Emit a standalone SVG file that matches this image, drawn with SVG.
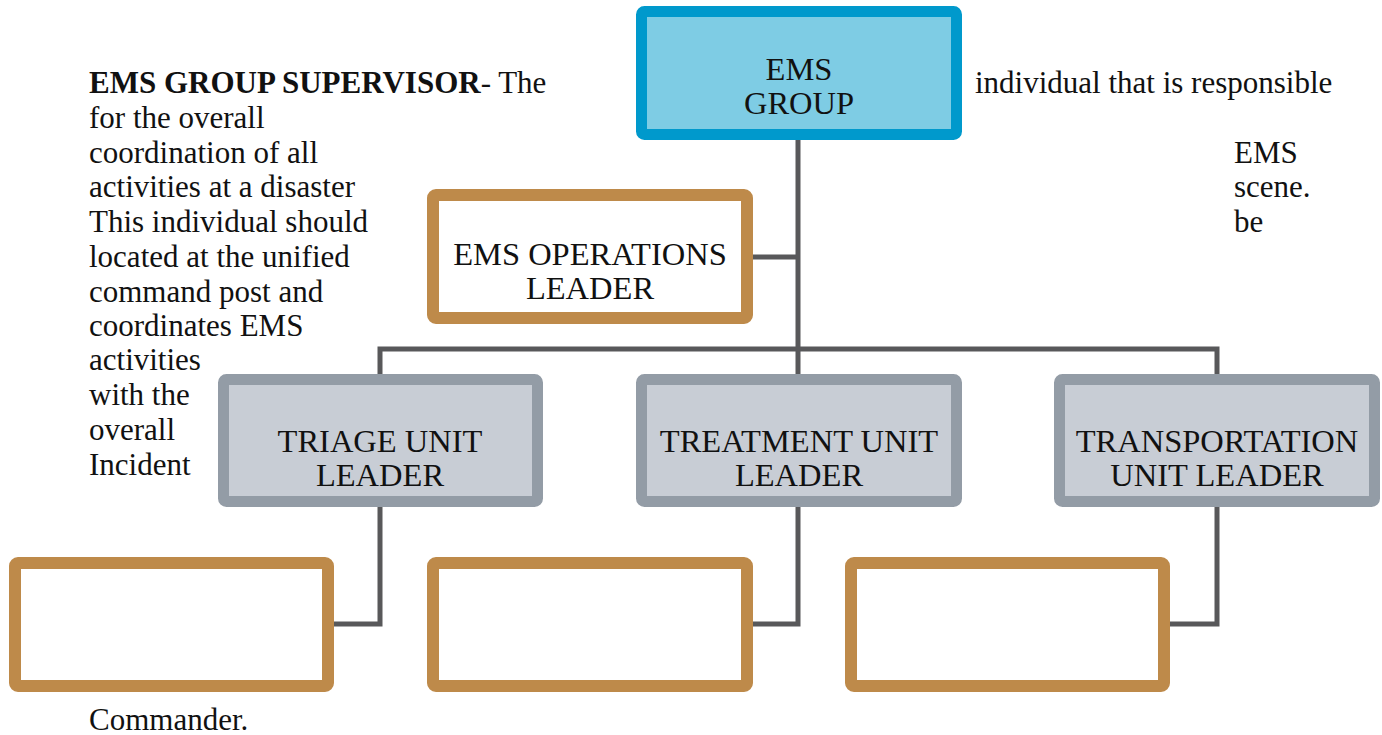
<svg xmlns="http://www.w3.org/2000/svg" width="1382" height="735" viewBox="0 0 1382 735">
  <style>
    .txt { font-family: "Liberation Serif", "DejaVu Serif", serif; font-size: 31px; fill: #111; }
    .lbl { font-family: "Liberation Serif", "DejaVu Serif", serif; font-size: 32.5px; fill: #111; text-anchor: middle; }
    .top { fill: #7ecce4; stroke: #0099cc; stroke-width: 11; }
    .ops { fill: #ffffff; stroke: #be8a4a; stroke-width: 12; }
    .unit { fill: #c8cdd5; stroke: #939ca6; stroke-width: 11; }
    .wire { fill: none; stroke: #58585a; stroke-width: 5; }
  </style>
  <rect width="1382" height="735" fill="#ffffff"/>

  <!-- connectors -->
  <g id="connectors">
    <path class="wire" d="M798 140 V374"/>
    <path class="wire" d="M753 257 H798"/>
    <path class="wire" d="M380 374 V349 H1217 V374"/>
    <path class="wire" d="M380 507 V624 H334"/>
    <path class="wire" d="M798 507 V624 H753"/>
    <path class="wire" d="M1217 507 V624 H1170"/>
  </g>

  <!-- descriptive text -->
  <g id="description">
    <text class="txt" x="89" y="93"><tspan font-weight="bold">EMS GROUP SUPERVISOR</tspan>- The</text>
    <text class="txt" x="89" y="128">for the overall</text>
    <text class="txt" x="89" y="163">coordination of all</text>
    <text class="txt" x="89" y="197">activities at a disaster</text>
    <text class="txt" x="89" y="232">This individual should</text>
    <text class="txt" x="89" y="267">located at the unified</text>
    <text class="txt" x="89" y="302">command post and</text>
    <text class="txt" x="89" y="336">coordinates EMS</text>
    <text class="txt" x="89" y="370">activities</text>
    <text class="txt" x="89" y="405">with the</text>
    <text class="txt" x="89" y="440">overall</text>
    <text class="txt" x="89" y="475">Incident</text>
    <text class="txt" x="89" y="730">Commander.</text>
    <text class="txt" x="975" y="93">individual that is responsible</text>
    <text class="txt" x="1234" y="163">EMS</text>
    <text class="txt" x="1234" y="197">scene.</text>
    <text class="txt" x="1234" y="232">be</text>
  </g>

  <g id="ems-group">
    <rect class="top" x="641.5" y="11.5" width="315" height="123" rx="3"/>
    <text class="lbl" x="799" y="80">EMS</text>
    <text class="lbl" x="799" y="114">GROUP</text>
  </g>

  <g id="ems-operations-leader">
    <rect class="ops" x="433" y="195" width="314" height="123" rx="3"/>
    <text class="lbl" x="590" y="265">EMS OPERATIONS</text>
    <text class="lbl" x="590" y="299">LEADER</text>
  </g>

  <g id="triage-unit-leader">
    <rect class="unit" x="223.5" y="379.5" width="314" height="122" rx="3"/>
    <text class="lbl" x="380" y="452">TRIAGE UNIT</text>
    <text class="lbl" x="380" y="486">LEADER</text>
  </g>

  <g id="treatment-unit-leader">
    <rect class="unit" x="641.5" y="379.5" width="315" height="122" rx="3"/>
    <text class="lbl" x="799" y="452">TREATMENT UNIT</text>
    <text class="lbl" x="799" y="486">LEADER</text>
  </g>

  <g id="transportation-unit-leader">
    <rect class="unit" x="1059.5" y="379.5" width="315" height="122" rx="3"/>
    <text class="lbl" x="1217" y="452">TRANSPORTATION</text>
    <text class="lbl" x="1217" y="486">UNIT LEADER</text>
  </g>

  <g id="triage-sub">
    <rect class="ops" x="15" y="563" width="313" height="123" rx="3"/>
  </g>
  <g id="treatment-sub">
    <rect class="ops" x="433" y="563" width="314" height="123" rx="3"/>
  </g>
  <g id="transportation-sub">
    <rect class="ops" x="851" y="563" width="313" height="123" rx="3"/>
  </g>
</svg>
